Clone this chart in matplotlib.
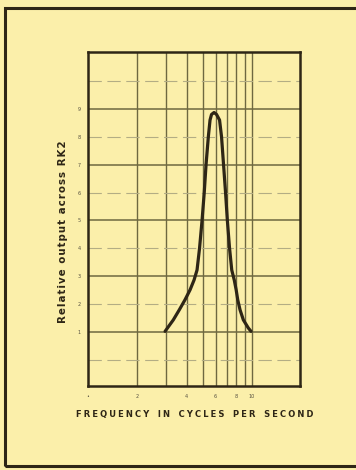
import matplotlib
matplotlib.use("Agg")
from matplotlib import pyplot as plt
from matplotlib.patches import Rectangle

# response curve (frequency in c/s, relative output)
freq = [2.95, 3.05, 3.31, 3.60, 3.90, 4.19, 4.43, 4.62, 4.785, 4.957, 5.112,
        5.243, 5.414, 5.545, 5.662, 5.866, 6.075, 6.337, 6.516, 6.702, 6.893,
        7.07, 7.292, 7.52, 7.79, 8.0, 8.18, 8.45, 8.85, 9.49, 9.86]
output = [1.02, 1.14, 1.43, 1.79, 2.15, 2.51, 2.86, 3.22, 4.0, 5.0, 6.0,
          7.0, 8.0, 8.6, 8.8, 8.87, 8.8, 8.6, 8.0, 7.0, 6.0,
          5.0, 4.0, 3.22, 2.86, 2.51, 2.15, 1.79, 1.43, 1.14, 1.02]

x_ticks = [1, 2, 4, 6, 8, 10]
x_tick_labels = ['\u2022', '2', '4', '6', '8', '10']
x_grid = [2, 3, 4, 5, 6, 7, 8, 9, 10]
y_solid = [1, 3, 5, 7, 9]
y_dashed = [0, 2, 4, 6, 8, 10]
y_ticks = [1, 2, 3, 4, 5, 6, 7, 8, 9]

ylabel = 'Relative output across RK2'
xlabel = 'FREQUENCY IN CYCLES PER SECOND'

paper = '#fbefaa'
ink = '#2e2616'
grid_col = '#6e6840'

W, H = 356, 470
fig = plt.figure(figsize=(W / 100, H / 100), dpi=100, facecolor=paper)

# outer frame of the page
fig.patches.append(Rectangle((5 / W, 4 / H), 1.2, (458 / H), transform=fig.transFigure,
                             fill=False, edgecolor=ink, linewidth=2.2))

ax = fig.add_axes([88 / W, (H - 386) / H, 212 / W, 334 / H])
ax.set_facecolor(paper)
ax.set_xscale('log')
ax.set_xlim(1, 19.6)
ax.set_ylim(-0.94, 11.04)

for xv in x_grid:
    ax.axvline(xv, color=grid_col, linewidth=1.0, zorder=1)
for yv in y_solid:
    ax.axhline(yv, color=grid_col, linewidth=1.1, zorder=1)
for yv in y_dashed:
    ax.axhline(yv, color='#b3ad84', linewidth=0.8, linestyle=(0, (12, 5)), zorder=1)

ax.plot(freq, output, color=ink, linewidth=2.3, solid_joinstyle='round',
        solid_capstyle='round', zorder=3)

for s in ax.spines.values():
    s.set_color(ink)
    s.set_linewidth(1.8)

ax.set_xticks(x_ticks)
ax.xaxis.set_minor_locator(matplotlib.ticker.NullLocator())
ax.set_xticklabels(x_tick_labels)
ax.set_yticks(y_ticks)
ax.set_yticklabels([str(v) for v in y_ticks])
ax.tick_params(axis='both', length=0, labelsize=3.5, labelcolor='#555040')
ax.tick_params(axis='x', pad=6)
ax.tick_params(axis='y', pad=5)

# spaced-out lettering like the printed original
fig.text(63 / W, 1 - 232 / H, '\u200a'.join(ylabel), rotation=90,
         ha='center', va='center', fontsize=7.4, fontweight='bold', color=ink)
spaced = '   '.join('\u2005'.join(word) for word in xlabel.split(' '))
fig.text(195 / W, 1 - 414 / H, spaced,
         ha='center', va='center', fontsize=6, fontweight='bold', color=ink)

fig.savefig('out.png', dpi=100, facecolor=paper)
